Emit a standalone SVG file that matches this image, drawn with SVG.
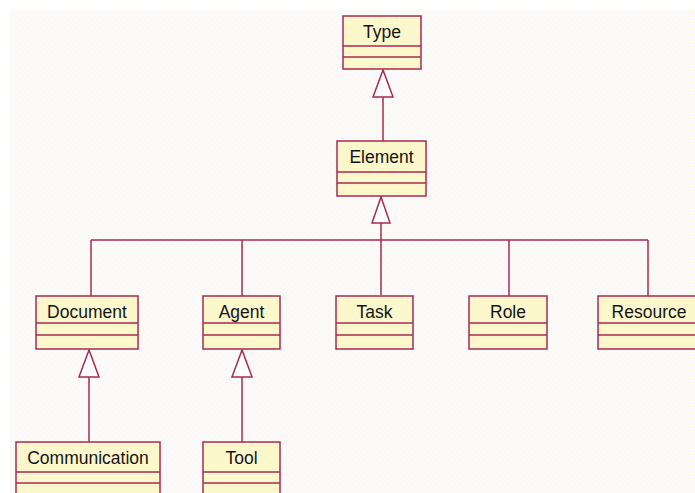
<svg xmlns="http://www.w3.org/2000/svg" width="695" height="493" viewBox="0 0 695 493">
<defs>
<style>
.box{fill:#fcf8cc;stroke:#a82a52;stroke-width:1.5}
.div{stroke:#a82a52;stroke-width:1.5;fill:none}
.lbl{font-family:"Liberation Sans",Arial,sans-serif;font-size:17.5px;fill:#141414;text-anchor:middle}
.edge{stroke:#a82a52;stroke-width:1.5;fill:none}
.tri{fill:#ffffff;stroke:#a82a52;stroke-width:1.5}
</style>
<pattern id="dots" width="6" height="6" patternUnits="userSpaceOnUse">
<rect width="6" height="6" fill="#fbf9f9"/>
<rect x="1" y="1" width="1" height="1" fill="#f8f5e0"/>
<rect x="4" y="4" width="1" height="1" fill="#f8f5e0"/>
</pattern>
</defs>
<rect width="695" height="493" fill="#ffffff"/>
<rect x="10" y="10" width="685" height="483" fill="url(#dots)"/>

<g id="connectors">
<line class="edge" x1="383" y1="97" x2="383" y2="141"/>
<polygon class="tri" points="383,70 373,97 393,97"/>
<line class="edge" x1="381" y1="223" x2="381" y2="295"/>
<polygon class="tri" points="381,197 372,223 390,223"/>
<line class="edge" x1="91" y1="240" x2="648" y2="240"/>
<line class="edge" x1="91" y1="240" x2="91" y2="296"/>
<line class="edge" x1="242" y1="240" x2="242" y2="296"/>
<line class="edge" x1="509" y1="240" x2="509" y2="296"/>
<line class="edge" x1="648" y1="240" x2="648" y2="296"/>
<line class="edge" x1="89" y1="377" x2="89" y2="442"/>
<polygon class="tri" points="89,350 79,377 99,377"/>
<line class="edge" x1="242" y1="377" x2="242" y2="442"/>
<polygon class="tri" points="242,350 232,377 252,377"/>
</g>

<g id="Type">
<rect class="box" x="343" y="16" width="78" height="53"/>
<path class="div" d="M343,46H421M343,57H421"/>
<text class="lbl" x="382" y="38">Type</text>
</g>
<g id="Element">
<rect class="box" x="337" y="141" width="89" height="55"/>
<path class="div" d="M337,172H426M337,183H426"/>
<text class="lbl" x="381.5" y="163">Element</text>
</g>
<g id="Document">
<rect class="box" x="36" y="296" width="102" height="53"/>
<path class="div" d="M36,323H138M36,335H138"/>
<text class="lbl" x="87" y="318">Document</text>
</g>
<g id="Agent">
<rect class="box" x="203" y="296" width="77" height="53"/>
<path class="div" d="M203,323H280M203,335H280"/>
<text class="lbl" x="241.5" y="318">Agent</text>
</g>
<g id="Task">
<rect class="box" x="336" y="296" width="77" height="53"/>
<path class="div" d="M336,323H413M336,335H413"/>
<text class="lbl" x="374.5" y="318">Task</text>
</g>
<g id="Role">
<rect class="box" x="469" y="296" width="78" height="53"/>
<path class="div" d="M469,323H547M469,335H547"/>
<text class="lbl" x="508" y="318">Role</text>
</g>
<g id="Resource">
<rect class="box" x="598" y="296" width="110" height="53"/>
<path class="div" d="M598,323H708M598,335H708"/>
<text class="lbl" x="649" y="318">Resource</text>
</g>
<g id="Communication">
<rect class="box" x="16" y="442" width="144" height="60"/>
<path class="div" d="M16,472H160M16,483H160"/>
<text class="lbl" x="88" y="464">Communication</text>
</g>
<g id="Tool">
<rect class="box" x="203" y="442" width="77" height="60"/>
<path class="div" d="M203,472H280M203,483H280"/>
<text class="lbl" x="241.5" y="464">Tool</text>
</g>
</svg>
